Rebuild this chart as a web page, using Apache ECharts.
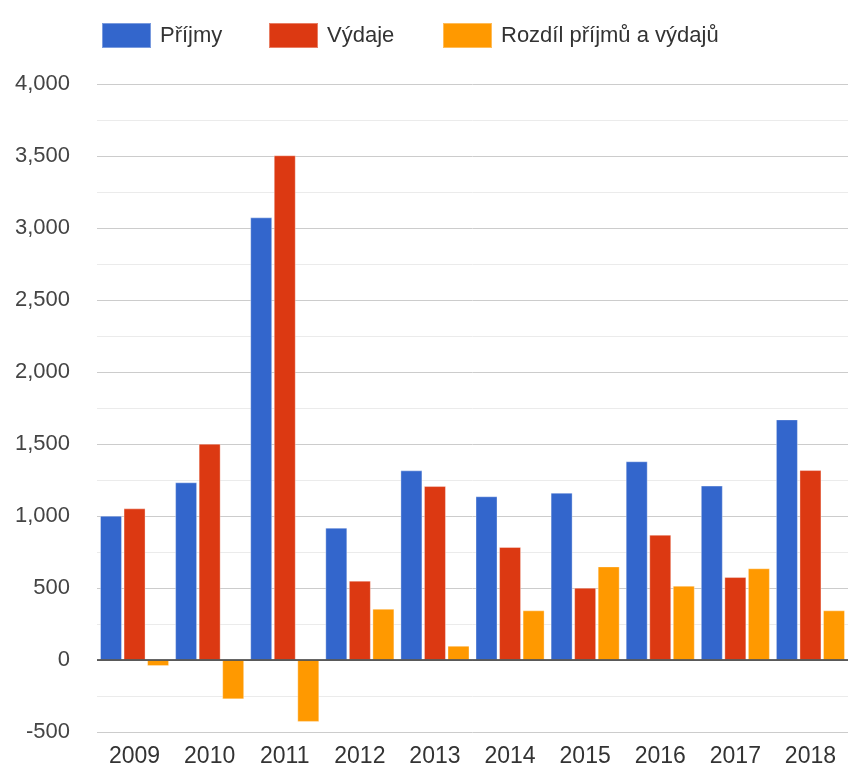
<!DOCTYPE html>
<html>
<head>
<meta charset="utf-8">
<script src="https://cdn.jsdelivr.net/npm/echarts@6/dist/echarts.min.js"></script>
<style>
html,body{margin:0;padding:0;background:#fff;}
#chart{width:848px;height:772px;}
</style>
</head>
<body>
<div id="chart"></div>
<script>
var categories = ['2009','2010','2011','2012','2013','2014','2015','2016','2017','2018'];
var prijmy = [1002, 1234, 3074, 919, 1317, 1137, 1162, 1380, 1211, 1671];
var vydaje = [1053, 1502, 3505, 551, 1208, 785, 502, 870, 576, 1319];
var rozdil = [-42, -273, -430, 356, 99, 345, 650, 516, 637, 345];
var seriesNames = ['Příjmy', 'Výdaje', 'Rozdíl příjmů a výdajů'];
var colors = ['#3366cc', '#dc3912', '#ff9900'];

var font = 'Arial, "Liberation Sans", sans-serif';
var chart = echarts.init(document.getElementById('chart'));

function legendAt(name, left) {
  return {
    data: [name], left: left, top: 17, itemWidth: 49, itemHeight: 25,
    icon: 'rect', selectedMode: false,
    textStyle: {fontFamily: font, fontSize: 22, color: '#333', padding: [0,0,0,4]}
  };
}

var option = {
  animation: false,
  color: colors,
  legend: [legendAt(seriesNames[0], 96), legendAt(seriesNames[1], 263), legendAt(seriesNames[2], 437)],
  grid: {left: 97, top: 84, width: 757, bottom: 40, containLabel: false},
  xAxis: {
    type: 'category', data: categories,
    axisLine: {show: false, onZero: false},
    axisTick: {show: false},
    axisLabel: {fontFamily: font, fontSize: 23, color: '#333', margin: 13}
  },
  yAxis: {
    type: 'value', min: -500, max: 4000, interval: 500,
    axisLine: {show: false}, axisTick: {show: false},
    axisLabel: {
      fontFamily: font, fontSize: 22, color: '#444', margin: 27,
      formatter: function (v) { return v.toLocaleString('en-US'); }
    },
    splitLine: {lineStyle: {color: '#cccccc', width: 1}},
    minorTick: {show: false, splitNumber: 2},
    minorSplitLine: {show: true, lineStyle: {color: '#ebebeb', width: 1}}
  },
  series: [
    {name: seriesNames[0], type: 'bar', data: prijmy, barWidth: 22, barGap: '7%',
     itemStyle: {borderColor: 'rgba(255,255,255,0.35)', borderWidth: 1},
     markLine: {silent: true, symbol: 'none', label: {show: false},
                lineStyle: {color: '#333', width: 1.5, type: 'solid'},
                data: [{yAxis: 0}], z: 10}},
    {name: seriesNames[1], type: 'bar', data: vydaje, barWidth: 22, barGap: '7%',
     itemStyle: {borderColor: 'rgba(255,255,255,0.35)', borderWidth: 1}},
    {name: seriesNames[2], type: 'bar', data: rozdil, barWidth: 22, barGap: '7%',
     itemStyle: {borderColor: 'rgba(255,255,255,0.35)', borderWidth: 1}}
  ]
};
chart.setOption(option);
</script>
</body>
</html>
